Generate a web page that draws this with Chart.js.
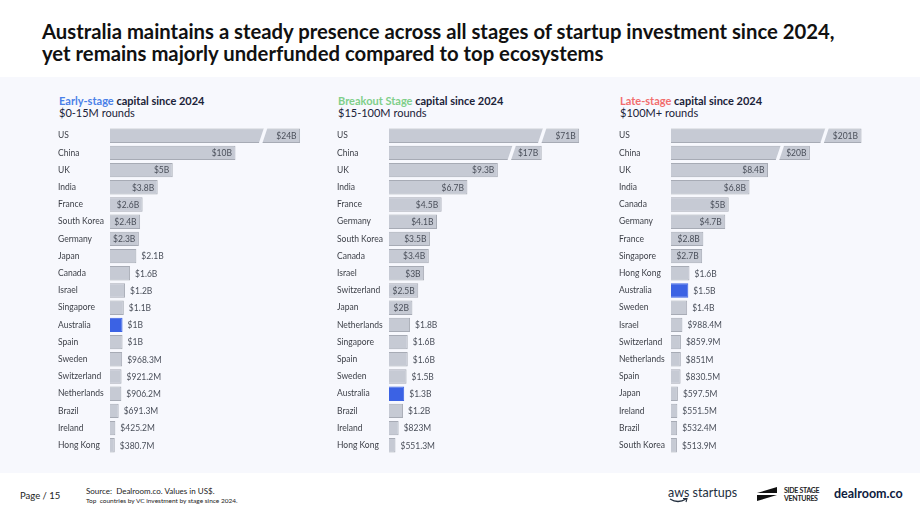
<!DOCTYPE html>
<html>
<head>
<meta charset="utf-8">
<script src="https://cdn.jsdelivr.net/npm/chart.js@4.4.1/dist/chart.umd.min.js"></script>
<style>
  body { margin: 0; width: 920px; height: 518px; background: #fff; font-family: Lato, "Noto Sans", sans-serif; overflow: hidden; position: relative; }
  h1 { position: absolute; left: 42px; top: 20px; margin: 0; font-size: 20.3px; line-height: 22px; font-weight: 700; color: #111; }
  .band { position: absolute; left: 0; top: 77px; width: 920px; height: 396px; background: #f7f8fd; }
  .head { position: absolute; top: 95px; font-size: 11px; line-height: 12px; color: #1a2238; }
  .head b { font-weight: 700; }
  .panel { position: absolute; top: 122px; width: 252px; height: 337px; }
  .foot { position: absolute; color: #222; }
  .foot svg { display: block; }
</style>
</head>
<body>
<h1>Australia maintains a steady presence across all stages of startup investment since 2024,<br>yet remains majorly underfunded compared to top ecosystems</h1>
<div class="band"></div>

<div class="head" style="left:59px"><b><span style="color:#4a80e8">Early-stage</span> capital since 2024</b><br>$0-15M rounds</div>
<div class="head" style="left:338px"><b><span style="color:#7fcf8a">Breakout Stage</span> capital since 2024</b><br>$15-100M rounds</div>
<div class="head" style="left:620px"><b><span style="color:#f26d6d">Late-stage</span> capital since 2024</b><br>$100M+ rounds</div>

<div class="panel" style="left:58px"><canvas id="earlyChart"></canvas></div>
<div class="panel" style="left:337px"><canvas id="breakoutChart"></canvas></div>
<div class="panel" style="left:619px"><canvas id="lateChart"></canvas></div>

<div class="foot" style="left:20px; top:490px; font-size:9.5px;">Page / 15</div>
<div class="foot" style="left:86px; top:486px; font-size:8px;">Source:&nbsp; Dealroom.co. Values in US$.</div>
<div class="foot" style="left:86px; top:497px; font-size:6.5px;">Top&nbsp; countries by VC investment by stage since 2024.</div>
<div class="foot" style="left:668px; top:485px; font-size:12.5px; color:#232f3e;">aws startups</div>
<div class="foot" style="left:669px; top:498px; width:20px; height:6px;">
  <svg width="20" height="6"><path d="M1 1 Q9 6 17 1" stroke="#232f3e" stroke-width="1.3" fill="none"/><path d="M14 0.5 L18 0.5 L17 4" stroke="#232f3e" stroke-width="1.1" fill="none"/></svg>
</div>
<div class="foot" style="left:757px; top:487px; width:22px; height:14px;">
  <svg width="22" height="14"><polygon points="0,6 20,0 20,6 0,6" fill="#111"/><polygon points="0,14 0,8 20,8 20,8" fill="#111"/></svg>
</div>
<div class="foot" style="left:784px; top:487px; font-size:7px; line-height:7.5px; font-weight:700; letter-spacing:-0.3px;">SIDE STAGE<br>VENTURES</div>
<div class="foot" style="left:834px; top:486px; font-size:12.5px; font-weight:700; color:#0d1b3e;">dealroom.co</div>

<script>
// values in $M
const earlyCountries = ['US', 'China', 'UK', 'India', 'France', 'South Korea', 'Germany', 'Japan', 'Canada', 'Israel', 'Singapore', 'Australia', 'Spain', 'Sweden', 'Switzerland', 'Netherlands', 'Brazil', 'Ireland', 'Hong Kong'];
const earlyValues = [24000, 10000, 5000, 3800, 2600, 2400, 2300, 2100, 1600, 1200, 1100, 1000, 1000, 968.3, 921.2, 906.2, 691.3, 425.2, 380.7];

const breakoutCountries = ['US', 'China', 'UK', 'India', 'France', 'Germany', 'South Korea', 'Canada', 'Israel', 'Switzerland', 'Japan', 'Netherlands', 'Singapore', 'Spain', 'Sweden', 'Australia', 'Brazil', 'Ireland', 'Hong Kong'];
const breakoutValues = [71000, 17000, 9300, 6700, 4500, 4100, 3500, 3400, 3000, 2500, 2000, 1800, 1600, 1600, 1500, 1300, 1200, 823, 551.3];

const lateCountries = ['US', 'China', 'UK', 'India', 'Canada', 'Germany', 'France', 'Singapore', 'Hong Kong', 'Australia', 'Sweden', 'Israel', 'Switzerland', 'Netherlands', 'Spain', 'Japan', 'Ireland', 'Brazil', 'South Korea'];
const lateValues = [201000, 20000, 8400, 6800, 5000, 4700, 2800, 2700, 1600, 1500, 1400, 988.4, 859.9, 851, 830.5, 597.5, 551.5, 532.4, 513.9];

// broken bars: the first bars are drawn cut to these lengths ($M)
const earlyBreaks = [15150];
const breakoutBreaks = [16250, 13050];
const lateBreaks = [16500, 12030];

// axis maximum for each panel ($M)
const earlyMax = 15940;
const breakoutMax = 17090;
const lateMax = 17320;

const highlight = 'Australia';
const barColor = '#c6cad4';
const barBorder = '#a7abb5';
const ausColor = '#3b62e4';
const bandColor = '#f7f8fd';

function fmt(v) {
    if (v >= 1000) return '$' + (v / 1000) + 'B';
    return '$' + v + 'M';
}

// white slash through the broken bars
const breakPlugin = {
    id: 'breakMarks',
    afterDatasetsDraw(chart) {
        const ctx = chart.ctx;
        const meta = chart.getDatasetMeta(0);
        const breaks = chart.options.plugins.breakMarks.breaks;
        breaks.forEach((b, i) => {
            const bar = meta.data[i];
            const cx = bar.x - (i === 0 ? 37 : 30);
            const top = bar.y - bar.height / 2 - 1;
            const bot = bar.y + bar.height / 2 + 1;
            ctx.save();
            ctx.fillStyle = bandColor;
            ctx.beginPath();
            ctx.moveTo(cx + 1, top);
            ctx.lineTo(cx + 4.5, top);
            ctx.lineTo(cx - 1, bot);
            ctx.lineTo(cx - 4.5, bot);
            ctx.closePath();
            ctx.fill();
            ctx.restore();
        });
    }
};

// value labels, inside the bar when they fit
const valuePlugin = {
    id: 'valueLabels',
    afterDatasetsDraw(chart) {
        const ctx = chart.ctx;
        const meta = chart.getDatasetMeta(0);
        const raw = chart.options.plugins.valueLabels.values;
        ctx.save();
        ctx.font = '8.5px Lato, "Noto Sans", sans-serif';
        ctx.textBaseline = 'middle';
        ctx.fillStyle = '#4a4f5a';
        meta.data.forEach((bar, i) => {
            const text = fmt(raw[i]);
            const w = ctx.measureText(text).width;
            const len = bar.x - bar.base;
            if (w + 5 <= len) {
                ctx.textAlign = 'right';
                ctx.fillText(text, bar.x - 3.5, bar.y + 0.5);
            } else {
                ctx.textAlign = 'left';
                ctx.fillText(text, bar.x + 5, bar.y + 0.5);
            }
        });
        ctx.restore();
    }
};

function makeChart(id, countries, values, breaks, max) {
    const shown = values.map((v, i) => i < breaks.length ? breaks[i] : v);
    new Chart(document.getElementById(id), {
        type: 'bar',
        data: {
            labels: countries,
            datasets: [{
                data: shown,
                backgroundColor: countries.map(c => c === highlight ? ausColor : barColor),
                borderColor: countries.map(c => c === highlight ? ausColor : barBorder),
                borderWidth: 1,
                borderSkipped: 'left',
                barPercentage: 0.84,
                categoryPercentage: 1
            }]
        },
        options: {
            indexAxis: 'y',
            responsive: true,
            maintainAspectRatio: false,
            animation: false,
            layout: { padding: 0 },
            plugins: {
                legend: { display: false },
                tooltip: { enabled: false },
                breakMarks: { breaks: breaks },
                valueLabels: { values: values }
            },
            scales: {
                x: { display: false, min: 0, max: max },
                y: {
                    grid: { display: false, drawTicks: false },
                    border: { display: false },
                    afterFit(scale) { scale.width = 52; },
                    ticks: {
                        crossAlign: 'far',
                        padding: 0,
                        color: '#3c3f47',
                        font: { family: 'Lato, "Noto Sans", sans-serif', size: 8.5 }
                    }
                }
            }
        },
        plugins: [breakPlugin, valuePlugin]
    });
}

makeChart('earlyChart', earlyCountries, earlyValues, earlyBreaks, earlyMax);
makeChart('breakoutChart', breakoutCountries, breakoutValues, breakoutBreaks, breakoutMax);
makeChart('lateChart', lateCountries, lateValues, lateBreaks, lateMax);
</script>
</body>
</html>
